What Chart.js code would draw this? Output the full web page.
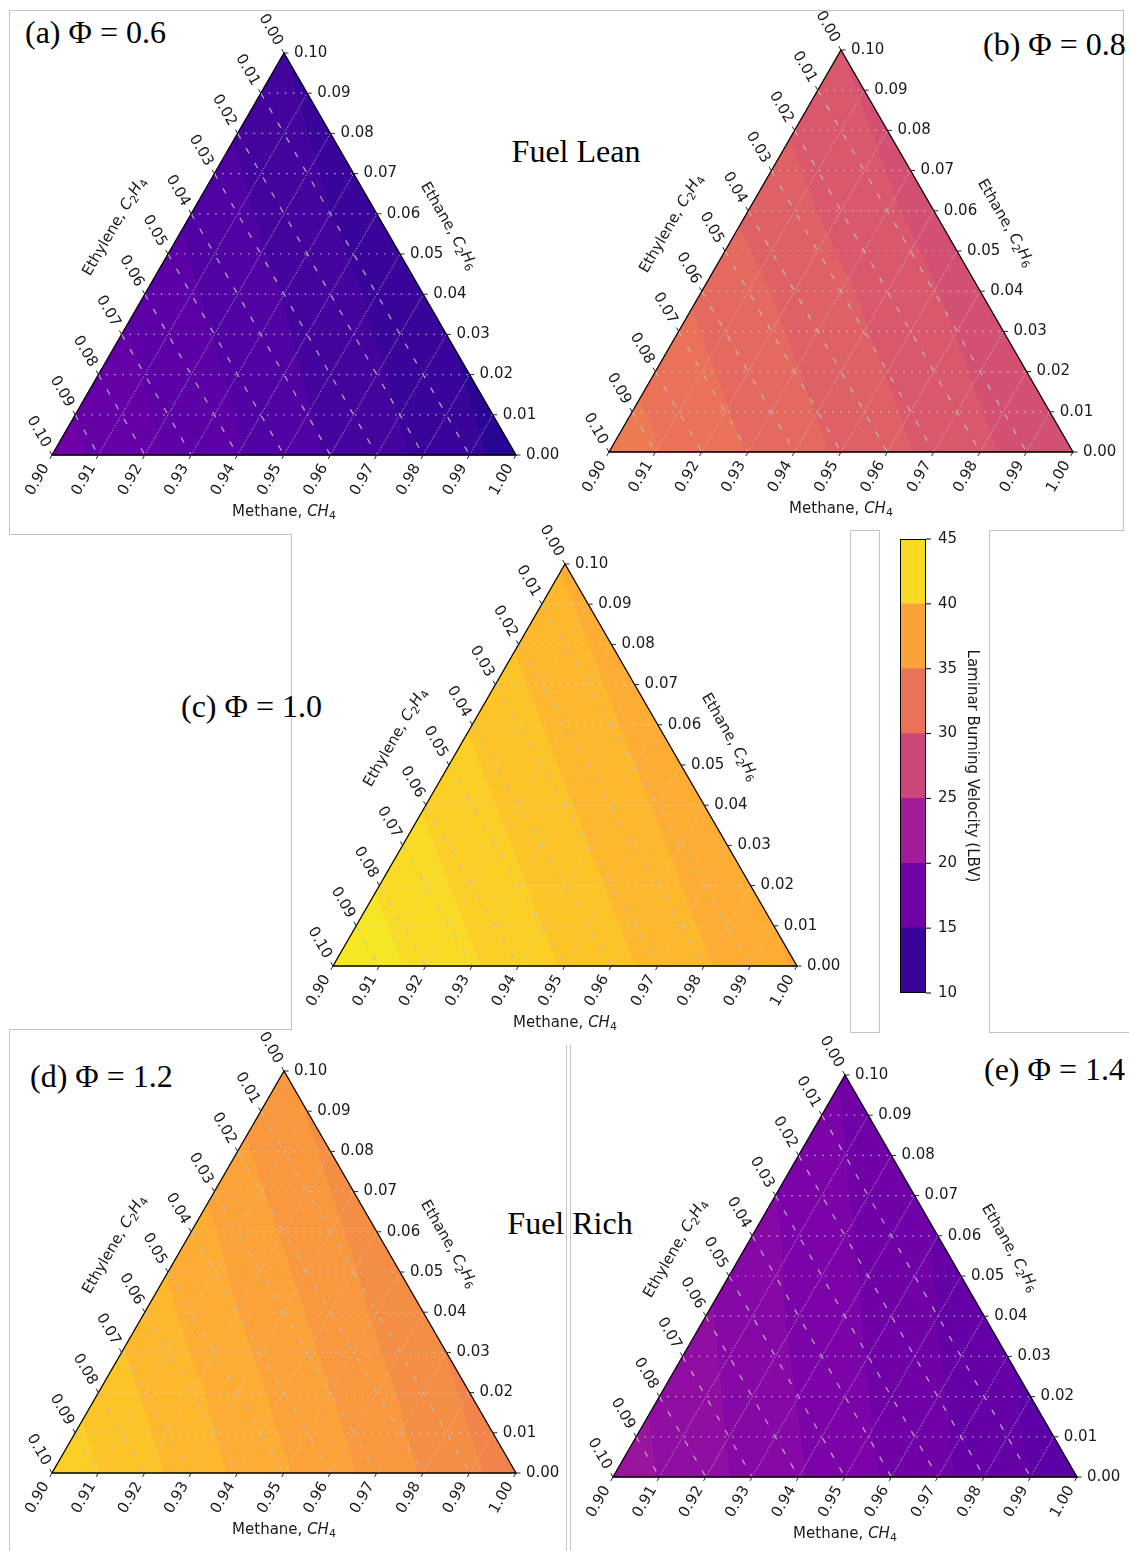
<!DOCTYPE html>
<html>
<head>
<meta charset="utf-8">
<title>Laminar burning velocity – CH4/C2H6/C2H4 ternary maps</title>
<script src="https://cdn.jsdelivr.net/npm/chart.js@4.4.1/dist/chart.umd.min.js"></script>
<style>
html,body{margin:0;padding:0;background:#fff;}
#page{position:relative;width:1129px;height:1551px;overflow:hidden;background:#fff;}
canvas{position:absolute;}
.ln{position:absolute;background:#c4c4c4;}
.ttl{position:absolute;font-family:"Liberation Serif","Times New Roman",serif;font-size:32px;line-height:32px;color:#000;white-space:nowrap;}
</style>
</head>
<body>
<div id="page">
  <!-- frame lines -->
  <div class="ln" style="left:9px;top:10px;width:1115px;height:1px"></div>
  <div class="ln" style="left:9px;top:10px;width:1px;height:525px"></div>
  <div class="ln" style="left:9px;top:534px;width:283px;height:1px"></div>
  <div class="ln" style="left:291px;top:534px;width:1px;height:496px"></div>
  <div class="ln" style="left:9px;top:1029px;width:283px;height:1px"></div>
  <div class="ln" style="left:9px;top:1029px;width:1px;height:522px"></div>
  <div class="ln" style="left:566px;top:1045px;width:1px;height:506px"></div>
  <div class="ln" style="left:570px;top:1045px;width:1px;height:506px"></div>
  <div class="ln" style="left:1123px;top:10px;width:1px;height:521px"></div>
  <div class="ln" style="left:989px;top:530px;width:135px;height:1px"></div>
  <div class="ln" style="left:989px;top:530px;width:1px;height:503px"></div>
  <div class="ln" style="left:989px;top:1032px;width:140px;height:1px"></div>
  <div class="ln" style="left:850px;top:530px;width:30px;height:1px"></div>
  <div class="ln" style="left:850px;top:530px;width:1px;height:503px"></div>
  <div class="ln" style="left:879px;top:530px;width:1px;height:503px"></div>
  <div class="ln" style="left:850px;top:1032px;width:30px;height:1px"></div>

  <!-- titles -->
  <div class="ttl" style="left:25px;top:16px">(a) Φ = 0.6</div>
  <div class="ttl" style="left:576px;top:135px;transform:translateX(-50%)">Fuel Lean</div>
  <div class="ttl" style="left:983px;top:28px">(b) Φ = 0.8</div>
  <div class="ttl" style="left:181px;top:690px">(c) Φ = 1.0</div>
  <div class="ttl" style="left:30px;top:1060px">(d) Φ = 1.2</div>
  <div class="ttl" style="left:570px;top:1207px;transform:translateX(-50%)">Fuel Rich</div>
  <div class="ttl" style="left:984px;top:1053px">(e) Φ = 1.4</div>
</div>
<script>
// ---------------- data ----------------
const methaneTickLabels   = ['0.90','0.91','0.92','0.93','0.94','0.95','0.96','0.97','0.98','0.99','1.00'];
const ethaneTickLabels    = ['0.00','0.01','0.02','0.03','0.04','0.05','0.06','0.07','0.08','0.09','0.10'];
const ethyleneTickLabels  = ['0.00','0.01','0.02','0.03','0.04','0.05','0.06','0.07','0.08','0.09','0.10'];

// composition grid: rows = ethane fraction, columns = ethylene fraction (methane = rest)
const ethaneFractions   = [0.00, 0.02, 0.04, 0.06, 0.08, 0.10];
const ethyleneFractions = [0.00, 0.02, 0.04, 0.06, 0.08, 0.10];

// LBV (cm/s)
const lbvPhi06 = [
  [11.6, 12.8, 13.9, 15.1, 16.2, 17.4],
  [11.9, 13.1, 14.2, 15.4, 16.5],
  [12.2, 13.4, 14.5, 15.7],
  [12.4, 13.6, 14.8],
  [12.7, 13.9],
  [13.0]
];
const lbvPhi08 = [
  [28.1, 29.2, 30.3, 31.4, 32.5, 33.6],
  [28.3, 29.4, 30.5, 31.6, 32.7],
  [28.5, 29.6, 30.7, 31.8],
  [28.6, 29.7, 30.8],
  [28.8, 29.9],
  [29.0]
];
const lbvPhi10 = [
  [37.9, 39.1, 40.3, 41.5, 42.7, 43.9],
  [38.1, 39.3, 40.5, 41.7, 42.9],
  [38.3, 39.5, 40.7, 41.9],
  [38.5, 39.7, 40.9],
  [38.7, 39.9],
  [38.9]
];
const lbvPhi12 = [
  [34.5, 35.9, 37.4, 38.8, 40.3, 41.7],
  [34.8, 36.3, 37.7, 39.2, 40.6],
  [35.1, 36.6, 38.0, 39.5],
  [35.5, 36.9, 38.4],
  [35.8, 37.2],
  [36.1]
];
const lbvPhi14 = [
  [15.3, 16.6, 17.8, 19.1, 20.3, 21.6],
  [15.8, 17.1, 18.3, 19.6, 20.8],
  [16.3, 17.6, 18.8, 20.1],
  [16.9, 18.1, 19.4],
  [17.4, 18.6],
  [17.9]
];
const colorbarLevels = [10, 15, 20, 25, 30, 35, 40, 45];
const colorbarTitle = 'Laminar Burning Velocity (LBV)';

// ---------------- colour map (plasma) ----------------
const PLASMA = ['#0d0887','#350498','#5002a2','#6600a7','#7e03a8','#9511a1','#a82296','#ba3388',
                '#cc4778','#da5a6a','#e66c5c','#f0804e','#f89540','#fdac33','#fdc527','#f8df25','#f0f921'];
function hexRgb(h){return [parseInt(h.slice(1,3),16),parseInt(h.slice(3,5),16),parseInt(h.slice(5,7),16)];}
function plasma(t){
  t=Math.max(0,Math.min(1,t));
  const n=PLASMA.length-1, x=t*n, i=Math.min(n-1,Math.floor(x)), f=x-i;
  const a=hexRgb(PLASMA[i]), b=hexRgb(PLASMA[i+1]);
  return 'rgb('+a.map((v,k)=>Math.round(v+(b[k]-v)*f)).join(',')+')';
}
const VMIN=colorbarLevels[0], VMAX=colorbarLevels[colorbarLevels.length-1];
function bandColor(k){return plasma((k+0.5-VMIN)/(VMAX-VMIN));}

// ---------------- helpers ----------------
const FONT='"DejaVu Sans"';
function clipPoly(poly, lev, keepAbove){
  const out=[];
  for(let k=0;k<poly.length;k++){
    const P=poly[k], Q=poly[(k+1)%poly.length];
    const pin = keepAbove ? P.v>=lev : P.v<=lev;
    const qin = keepAbove ? Q.v>=lev : Q.v<=lev;
    if(pin) out.push(P);
    if(pin!==qin){
      const t=(lev-P.v)/(Q.v-P.v);
      out.push({b:P.b+t*(Q.b-P.b), l:P.l+t*(Q.l-P.l), v:lev});
    }
  }
  return out;
}
function fontOf(p,size){return (p.it?'italic ':'')+(p.sub?Math.round(size*0.7):size)+'px '+FONT;}
function drawRich(ctx,pieces,cx,cy,ang,size){
  ctx.save();ctx.translate(cx,cy);ctx.rotate(ang);
  ctx.textBaseline='middle';ctx.textAlign='left';
  const w=pieces.map(p=>{ctx.font=fontOf(p,size);return ctx.measureText(p.t).width;});
  let x=-w.reduce((a,b)=>a+b,0)/2;
  pieces.forEach((p,i)=>{ctx.font=fontOf(p,size);ctx.fillText(p.t,x,p.sub?size*0.3:0);x+=w[i];});
  ctx.restore();
}
function rotLabel(ctx,t,x,y,ang,align){
  ctx.save();ctx.translate(x,y);ctx.rotate(ang);
  ctx.textAlign=align;ctx.textBaseline='middle';ctx.fillText(t,0,0);ctx.restore();
}

// ---------------- ternary plugin ----------------
const ternaryPlugin={
  id:'ternary',
  afterDatasetsDraw(chart){
    const ctx=chart.ctx, xs=chart.scales.x, ys=chart.scales.y;
    // b = ethane/0.1 , l = ethylene/0.1
    const P=(b,l)=>[xs.getPixelForValue(1-0.5*b-l), ys.getPixelForValue(b)];
    const grid=chart.data.datasets[0].ternaryGrid;
    // --- filled contour bands ---
    const tris=[];
    for(let i=0;i<grid.length-1;i++){
      for(let j=0;j<grid[i].length-1;j++){
        tris.push([grid[i][j],grid[i][j+1],grid[i+1][j]]);
        if(j+1<grid[i+1].length) tris.push([grid[i][j+1],grid[i+1][j+1],grid[i+1][j]]);
      }
    }
    ctx.save();
    ctx.lineJoin='round';ctx.lineWidth=0.8;
    tris.forEach(tri=>{
      const vs=tri.map(p=>p.v);
      const k0=Math.floor(Math.min(...vs)), k1=Math.floor(Math.max(...vs));
      for(let k=k0;k<=k1;k++){
        const poly=clipPoly(clipPoly(tri,k,true),k+1,false);
        if(poly.length<3) continue;
        ctx.beginPath();
        poly.forEach((q,n)=>{const [x,y]=P(q.b,q.l); n?ctx.lineTo(x,y):ctx.moveTo(x,y);});
        ctx.closePath();
        ctx.fillStyle=bandColor(k);ctx.strokeStyle=bandColor(k);
        ctx.fill();ctx.stroke();
      }
    });
    ctx.restore();
    // --- grid lines ---
    ctx.save();
    const seg=(a,b)=>{ctx.beginPath();ctx.moveTo(a[0],a[1]);ctx.lineTo(b[0],b[1]);ctx.stroke();};
    for(let k=1;k<=9;k++){
      const f=k/10;
      // methane = const (parallel to left edge) : dense dotted
      ctx.setLineDash([1.1,1.7]);ctx.lineWidth=1;ctx.strokeStyle='rgba(205,205,205,0.8)';
      seg(P(0,1-f),P(1-f,0));
      // ethane = const (horizontal) : sparse dotted
      ctx.setLineDash([1.4,6.6]);ctx.lineWidth=1.2;ctx.strokeStyle='rgba(210,210,210,0.85)';
      seg(P(f,1-f),P(f,0));
      // ethylene = const (parallel to right edge) : dashed
      ctx.setLineDash([6,11]);ctx.lineWidth=1.3;ctx.strokeStyle='rgba(190,190,190,0.85)';
      seg(P(1-f,f),P(0,f));
    }
    ctx.restore();
    // --- triangle edges ---
    ctx.save();
    ctx.strokeStyle='#000';ctx.lineWidth=1.3;ctx.lineJoin='miter';
    const A=P(0,0),B=P(1,0),C=P(0,1);
    ctx.beginPath();ctx.moveTo(A[0],A[1]);ctx.lineTo(B[0],B[1]);ctx.lineTo(C[0],C[1]);ctx.closePath();ctx.stroke();
    // --- ticks and labels ---
    ctx.lineWidth=1;ctx.strokeStyle='#222';ctx.fillStyle='#1a1a1a';ctx.font='15px '+FONT;
    const tick=(x,y,dx,dy)=>{ctx.beginPath();ctx.moveTo(x,y);ctx.lineTo(x+4.5*dx,y+4.5*dy);ctx.stroke();};
    for(let k=0;k<=10;k++){
      const f=k/10;
      let [x,y]=P(0,1-f);
      tick(x,y,-0.5,0.866);
      rotLabel(ctx,methaneTickLabels[k],x-0.5*12,y+0.866*12,-Math.PI/3,'right');
      [x,y]=P(f,0);
      tick(x,y,1,0);
      ctx.textAlign='left';ctx.textBaseline='middle';ctx.fillText(ethaneTickLabels[k],x+10,y);
      [x,y]=P(1-f,f);
      tick(x,y,-0.5,-0.866);
      rotLabel(ctx,ethyleneTickLabels[k],x-0.5*10,y-0.866*10,Math.PI/3,'right');
    }
    // --- axis titles ---
    const bm=[(A[0]+C[0])/2,A[1]];
    drawRich(ctx,[{t:'Methane, '},{t:'CH',it:true},{t:'4',sub:true}],bm[0],bm[1]+57,0,15);
    const lm=P(0.5,0.5);
    drawRich(ctx,[{t:'Ethylene, '},{t:'C',it:true},{t:'2',sub:true},{t:'H',it:true},{t:'4',sub:true}],
             lm[0]-53.5,lm[1]-27.4,-Math.PI/3,15);
    const rm=P(0.5,0);
    drawRich(ctx,[{t:'Ethane, '},{t:'C',it:true},{t:'2',sub:true},{t:'H',it:true},{t:'6',sub:true}],
             rm[0]+48.5,rm[1]-28,Math.PI/3,15);
    ctx.restore();
  }
};

const page=document.getElementById('page');
function makePanel(blx,apy,values){
  const padL=62,padT=50,padR=82,padB=76;
  const W=464+padL+padR,H=402+padT+padB;
  const cv=document.createElement('canvas');
  cv.width=W;cv.height=H;
  cv.style.left=(blx-padL)+'px';cv.style.top=(apy-padT)+'px';
  cv.style.width=W+'px';cv.style.height=H+'px';
  page.appendChild(cv);
  const grid=[],pts=[];
  values.forEach((row,i)=>{
    const r=[];
    row.forEach((v,j)=>{
      const b=ethaneFractions[i]/0.1,l=ethyleneFractions[j]/0.1;
      const p={x:1-0.5*b-l,y:b,b:b,l:l,v:v};
      r.push(p);pts.push(p);
    });
    grid.push(r);
  });
  new Chart(cv,{
    type:'scatter',
    data:{datasets:[{data:pts,ternaryGrid:grid,pointRadius:0,pointHoverRadius:0,showLine:false}]},
    options:{
      responsive:false,animation:false,events:[],devicePixelRatio:1,
      layout:{padding:{left:padL,top:padT,right:padR,bottom:padB}},
      plugins:{legend:{display:false},tooltip:{enabled:false}},
      scales:{x:{type:'linear',min:0,max:1,display:false},y:{type:'linear',min:0,max:1,display:false}}
    },
    plugins:[ternaryPlugin]
  });
}
makePanel(52,53,lbvPhi06);
makePanel(609,50,lbvPhi08);
makePanel(333,564,lbvPhi10);
makePanel(52,1071,lbvPhi12);
makePanel(613,1075,lbvPhi14);

// ---------------- colour bar ----------------
(function(){
  const W=110,H=490;
  const cv=document.createElement('canvas');
  cv.width=W;cv.height=H;cv.style.left='880px';cv.style.top='520px';cv.style.width=W+'px';cv.style.height=H+'px';
  page.appendChild(cv);
  const ds=colorbarLevels.slice(0,-1).map((lo,i)=>{
    const hi=colorbarLevels[i+1];
    return {data:[[lo,hi]],backgroundColor:plasma(((lo+hi)/2-VMIN)/(VMAX-VMIN)),borderWidth:0,
            grouped:false,barPercentage:1,categoryPercentage:1};
  });
  const cbPlugin={id:'cb',afterDraw(chart){
    const ctx=chart.ctx,a=chart.chartArea,ys=chart.scales.y;
    ctx.save();
    ctx.strokeStyle='#000';ctx.lineWidth=1;
    ctx.strokeRect(Math.round(a.left)+0.5,Math.round(a.top)+0.5,Math.round(a.right-a.left)-1,Math.round(a.bottom-a.top)-1);
    ctx.fillStyle='#1a1a1a';ctx.font='15px '+FONT;ctx.textAlign='left';ctx.textBaseline='middle';
    colorbarLevels.forEach(v=>{
      const y=ys.getPixelForValue(v);
      ctx.beginPath();ctx.moveTo(a.right,y);ctx.lineTo(a.right+5,y);ctx.stroke();
      ctx.fillText(String(v),a.right+12,y);
    });
    ctx.translate(a.right+46,(a.top+a.bottom)/2);ctx.rotate(Math.PI/2);
    ctx.textAlign='center';ctx.fillText(colorbarTitle,0,0);
    ctx.restore();
  }};
  new Chart(cv,{
    type:'bar',
    data:{labels:[''],datasets:ds},
    options:{
      responsive:false,animation:false,events:[],devicePixelRatio:1,
      layout:{padding:{left:20,top:19,right:64,bottom:17}},
      plugins:{legend:{display:false},tooltip:{enabled:false}},
      scales:{x:{display:false},y:{display:false,min:VMIN,max:VMAX}}
    },
    plugins:[cbPlugin]
  });
})();
</script>
</body>
</html>
